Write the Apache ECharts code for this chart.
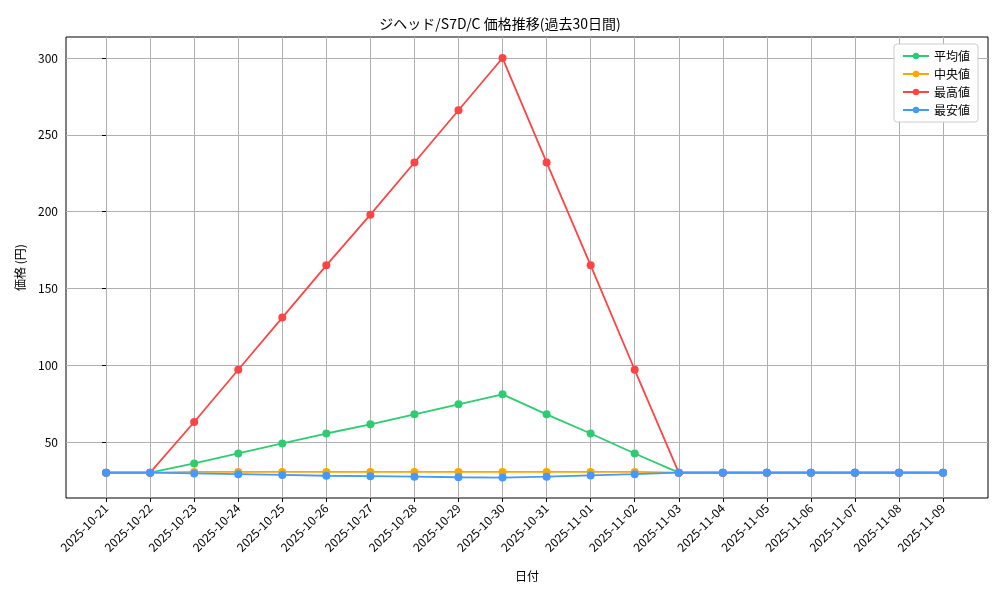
<!DOCTYPE html>
<html><head><meta charset="utf-8">
<script src="https://cdn.jsdelivr.net/npm/echarts@6/dist/echarts.min.js"></script>
<style>body{margin:0}#c{width:1000px;height:600px}</style>
</head><body><div id="c"></div>
<script>
var dates = ['2025-10-21','2025-10-22','2025-10-23','2025-10-24','2025-10-25','2025-10-26','2025-10-27','2025-10-28','2025-10-29','2025-10-30',
             '2025-10-31','2025-11-01','2025-11-02','2025-11-03','2025-11-04','2025-11-05','2025-11-06','2025-11-07','2025-11-08','2025-11-09'];
var avgVals = [30,30,36,42.5,49,55.5,61.5,68,74.5,81,68,55.5,42.5,30,30,30,30,30,30,30];
var medVals = [30,30,30.5,30.5,30.5,30.5,30.5,30.5,30.5,30.5,30.5,30.5,30.5,30,30,30,30,30,30,30];
var maxVals = [30,30,63,97,131,165,198,232,266,300,232,165,97,30,30,30,30,30,30,30];
var minVals = [30,30,29.5,29,28.5,28,27.7,27.4,27,26.8,27.4,28.2,29,30,30,30,30,30,30,30];
var yTicks = [50,100,150,200,250,300];

var F = '"Noto Sans CJK JP", sans-serif';
function pts(v){ return v.map(function(y,i){ return [i,y]; }); }
function ser(name, vals, color){
  return {name:name, type:'line', data:pts(vals), symbol:'circle', symbolSize:8,
    lineStyle:{color:color,width:1.8}, itemStyle:{color:color}};
}
var idx = dates.map(function(d,i){ return i; });
var chart = echarts.init(document.getElementById('c'));
chart.setOption({
  animation:false,
  textStyle:{fontFamily:F},
  title:{text:'ジヘッド/S7D/C 価格推移(過去30日間)', left:'center', top:12,
    textStyle:{fontFamily:F,fontSize:14,fontWeight:'normal',color:'#000'}},
  legend:{right:22, top:44, orient:'vertical', itemGap:6, itemWidth:26, itemHeight:8,
    backgroundColor:'#fff', borderColor:'#ccc', borderWidth:1, borderRadius:3, padding:[6,8],
    textStyle:{fontFamily:F,fontSize:12,color:'#000'}},
  grid:{left:66, right:12, top:37, bottom:102, show:true, borderColor:'#000', borderWidth:1},
  xAxis:{type:'value', min:-0.91, max:20.02, name:'日付', nameLocation:'middle', nameGap:72,
    nameTextStyle:{fontFamily:F,fontSize:12,color:'#000'},
    axisLine:{show:false},
    axisTick:{show:true, customValues:idx, length:4, lineStyle:{color:'#000'}},
    axisLabel:{customValues:idx, rotate:45, color:'#000', fontSize:12, fontFamily:F,
      formatter:function(v){ return dates[Math.round(v)]; }},
    splitLine:{show:true, lineStyle:{color:'#b0b0b0'}}},
  yAxis:{type:'value', min:13.5, max:313.7, name:'価格 (円)', nameLocation:'middle', nameGap:40,
    nameTextStyle:{fontFamily:F,fontSize:12,color:'#000'},
    axisLine:{show:false},
    axisTick:{show:true, customValues:yTicks, length:4, lineStyle:{color:'#000'}},
    axisLabel:{customValues:yTicks, color:'#000', fontSize:12, fontFamily:F},
    splitLine:{show:true, lineStyle:{color:'#b0b0b0'}}},
  series:[
    ser('平均値', avgVals, '#2ecc71'),
    ser('中央値', medVals, '#ffa500'),
    ser('最高値', maxVals, '#ff4444'),
    ser('最安値', minVals, '#4499ff')
  ]
});
</script></body></html>
